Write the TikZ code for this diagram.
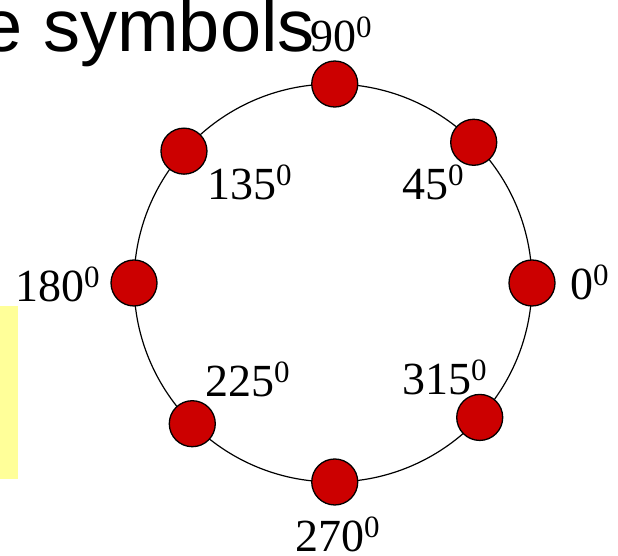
\documentclass[tikz,border=0pt]{standalone}
\usepackage{fontspec}
\setmainfont{Liberation Serif}
\setsansfont{Liberation Sans}
\usetikzlibrary{calc}
\definecolor{dotred}{HTML}{CC0000}
\definecolor{noteyellow}{HTML}{FFFF99}
\newcommand{\supzero}{\raisebox{14pt}{\fontsize{31}{31}\selectfont 0}}
\begin{document}
\begin{tikzpicture}[x=1pt, y=1pt,
  dot/.style={circle,draw=black,line width=1.3pt,fill=dotred,minimum size=46pt,inner sep=0pt},
  lbl/.style={anchor=base west,inner sep=0pt,font=\fontsize{46}{46}\selectfont}]
  \useasboundingbox (0,0) rectangle (618,556);
  % Title, cut at the left edge
  \node[anchor=base east,inner sep=0pt,font=\sffamily\fontsize{74}{74}\selectfont] (title) at (315,504) {e symbols};
  % Note box
  \fill[noteyellow] (0,77) rectangle (18,250);
  % Phase circle
  \coordinate (O) at (333,273);
  \draw[line width=1.2pt] (O) circle[radius=199];
  % Dots
  \foreach \a/\n in {0/0,45/45,89.5/90,138.5/135,180/180,225/225,270.5/270,317.5/315}
    \node[dot] (m\n) at ($(O)+(\a:199)$) {};
  % Angle labels
  \foreach \n/\x/\y in {0/570/256, 45/402/356, 90/310/504, 135/207/356,
                        180/15/254, 225/205/159, 270/295/4, 315/402/161}
    \node[lbl] (l\n) at (\x,\y) {\n\supzero};
\end{tikzpicture}
\end{document}
